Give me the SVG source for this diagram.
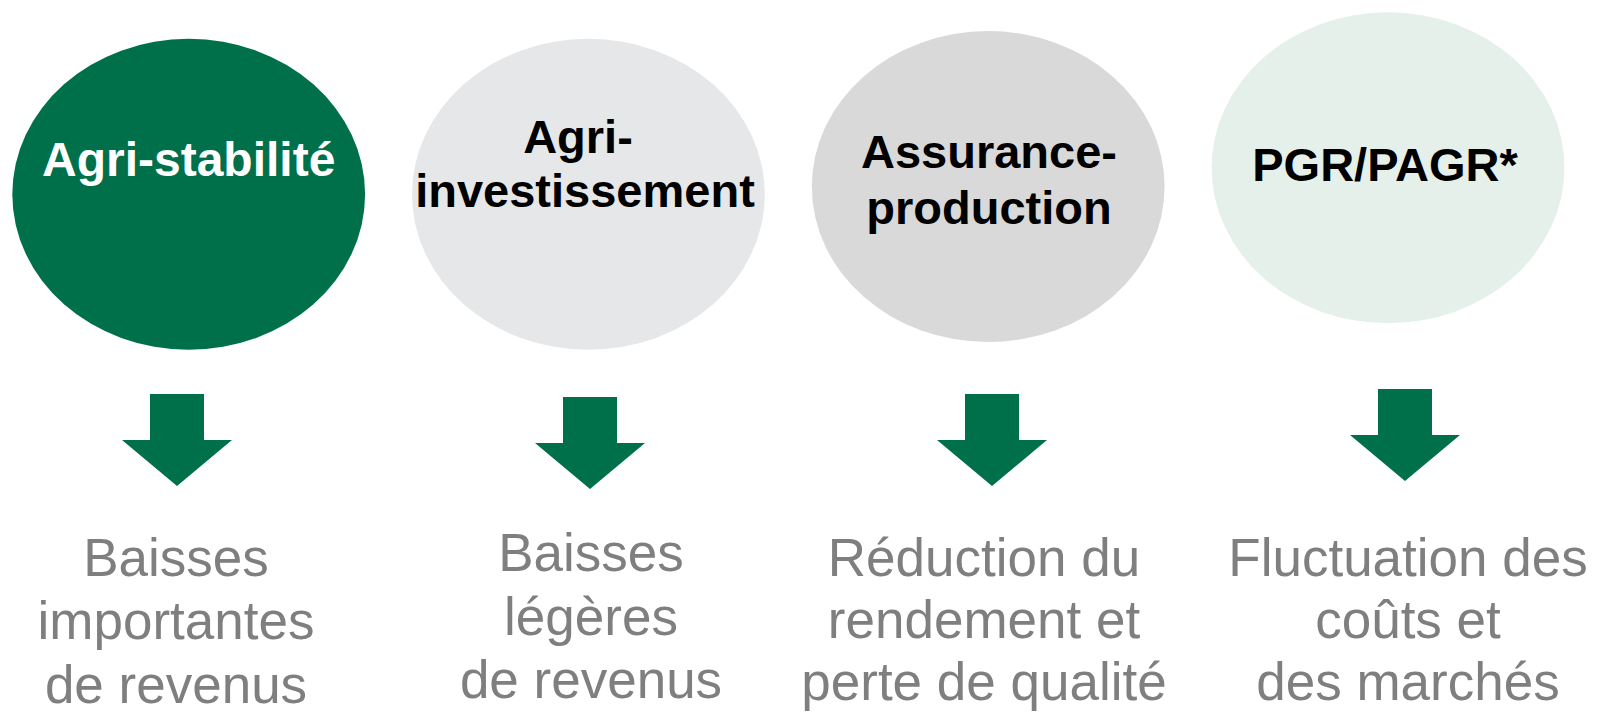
<svg xmlns="http://www.w3.org/2000/svg" width="1599" height="712" viewBox="0 0 1599 712">
<style>
.t{font-family:"Liberation Sans",Arial,sans-serif;font-weight:bold;font-size:47px;text-anchor:middle;fill:#000}
.w{fill:#fff}
.d{font-family:"Liberation Sans",Arial,sans-serif;font-size:53px;text-anchor:middle;fill:#7f7f7f}
.arr{fill:#00704a}
</style>
<defs>
<path id="arrow" d="M-27,0 H27 V46 H55 L0,92 L-55,46 H-27 Z"/>
</defs>
<rect width="1599" height="712" fill="#fff"/>
<g id="node-agri-stabilite">
<ellipse cx="188.7" cy="194.3" rx="176.4" ry="155.5" fill="#00704a"/>
<text class="t w" x="188.7" y="176" style="font-size:48px">Agri-stabilité</text>
</g>
<g id="node-agri-investissement">
<ellipse cx="588.4" cy="194.3" rx="176.4" ry="155.5" fill="#e6e7e8"/>
<text class="t" x="578" y="153">Agri-</text>
<text class="t" x="585" y="207">investissement</text>
</g>
<g id="node-assurance-production">
<ellipse cx="988.2" cy="186.6" rx="176.4" ry="155.5" fill="#d9d9d9"/>
<text class="t" x="989" y="168">Assurance-</text>
<text class="t" x="989" y="224">production</text>
</g>
<g id="node-pgr">
<ellipse cx="1388" cy="167.8" rx="176.4" ry="155.5" fill="#e5f0ea"/>
<text class="t" x="1385" y="180.5">PGR/PAGR*</text>
</g>
<g id="connectors">
<use href="#arrow" class="arr" x="177" y="394"/>
<use href="#arrow" class="arr" x="590" y="397"/>
<use href="#arrow" class="arr" x="992" y="394"/>
<use href="#arrow" class="arr" x="1405" y="389"/>
</g>
<g id="node-label-1">
<text class="d" x="176" y="576">Baisses</text>
<text class="d" x="176" y="639">importantes</text>
<text class="d" x="176" y="703">de revenus</text>
</g>
<g id="node-label-2">
<text class="d" x="591" y="571">Baisses</text>
<text class="d" x="591" y="635">légères</text>
<text class="d" x="591" y="698">de revenus</text>
</g>
<g id="node-label-3">
<text class="d" x="984" y="576">Réduction du</text>
<text class="d" x="984" y="638">rendement et</text>
<text class="d" x="984" y="700">perte de qualité</text>
</g>
<g id="node-label-4">
<text class="d" x="1408" y="576">Fluctuation des</text>
<text class="d" x="1408" y="638">coûts et</text>
<text class="d" x="1408" y="700">des marchés</text>
</g>
</svg>
